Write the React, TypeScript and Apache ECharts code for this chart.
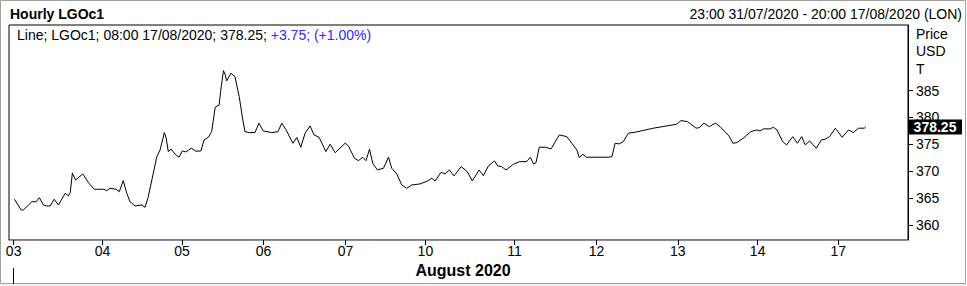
import React, { useEffect, useRef } from 'react';
import * as echarts from 'echarts';

// Trading-hour index (hourly bars since the 03 Aug session start) and LGOc1 price
const hours = [
  0.2, 2.1, 2.7, 5.1, 6.3, 7.2, 8.3, 9.2, 10.2, 11.3,
  12.5, 14.4, 15.3, 15.8, 16.4, 17.3, 19.3, 20.9, 22.5, 25.1,
  26.0, 26.9, 28.6, 29.5, 30.6, 31.6, 32.5, 33.9, 35.8, 36.7,
  37.5, 38.6, 40.0, 40.9, 42.1, 42.6, 43.2, 44.0, 45.1, 46.2,
  47.1, 48.1, 49.6, 50.9, 52.3, 53.2, 54.4, 55.3, 56.3, 57.4,
  57.8, 58.6, 59.1, 59.5, 60.7, 61.8, 63.0, 64.0, 64.6, 65.8,
  67.4, 68.5, 69.7, 72.1, 73.8, 74.9, 76.1, 78.0, 79.1, 80.2,
  81.4, 82.8, 83.9, 85.3, 86.2, 87.2, 88.4, 89.8, 92.6, 93.5,
  95.2, 96.3, 97.5, 98.4, 99.4, 100.3, 101.6, 103.3, 104.7, 105.6,
  107.0, 108.4, 109.8, 111.2, 113.5, 115.6, 116.8, 117.7, 119.4, 120.5,
  121.7, 123.0, 125.0, 126.7, 128.1, 130.0, 131.2, 132.6, 134.3, 135.2,
  136.3, 137.5, 139.6, 141.3, 143.3, 144.3, 145.2, 145.9, 146.8, 148.5,
  150.1, 152.4, 154.5, 155.9, 157.3, 158.0, 159.0, 159.9, 166.1, 167.1,
  168.0, 169.1, 170.3, 171.7, 173.6, 178.7, 185.2, 186.4, 188.2, 190.6,
  191.5, 192.8, 194.3, 196.0, 197.3, 199.8, 200.9, 202.0, 203.8, 205.9,
  207.6, 208.5, 209.4, 211.3, 212.2, 213.2, 214.8, 215.9, 217.6, 218.9,
  220.1, 221.1, 222.3, 224.2, 225.6, 226.7, 227.9, 229.5, 231.4, 233.2,
  234.5, 236.0, 237.6, 238.0,
];

const prices = [
  364.78, 362.78, 362.78, 364.33, 364.33, 365.07, 363.72, 363.53, 363.53, 364.78,
  363.72, 365.89, 365.39, 366.01, 369.62, 368.37, 369.49, 367.87, 366.64, 366.64,
  366.38, 366.82, 366.64, 366.19, 368.24, 365.89, 364.33, 363.53, 363.72, 363.29,
  364.96, 368.37, 372.71, 373.96, 377.18, 376.14, 373.64, 374.09, 373.16, 372.6,
  373.77, 373.58, 374.27, 373.72, 373.77, 375.82, 376.32, 377.36, 381.91, 382.34,
  384.81, 388.72, 387.92, 386.81, 388.24, 387.61, 383.88, 379.54, 377.36, 377.18,
  377.18, 378.93, 377.5, 377.18, 377.36, 378.93, 377.68, 375.2, 376.28, 374.46,
  377.07, 378.43, 376.75, 376.32, 375.07, 373.64, 375.02, 373.45, 375.2, 374.7,
  372.41, 371.96, 372.6, 371.96, 374.09, 371.48, 370.23, 370.55, 372.6, 370.55,
  369.49, 367.44, 366.82, 367.44, 367.63, 368.18, 368.69, 368.18, 369.8, 369.49,
  370.23, 369.12, 370.85, 369.92, 368.18, 370.23, 369.17, 370.98, 371.91, 370.98,
  370.85, 370.23, 371.29, 371.78, 371.78, 372.6, 371.35, 371.59, 374.46, 374.46,
  374.14, 376.75, 376.43, 375.2, 373.96, 372.52, 373.16, 372.6, 372.6, 372.71,
  375.2, 375.07, 375.5, 377.07, 377.25, 378.0, 378.74, 379.41, 379.23, 378.0,
  378.11, 378.93, 378.3, 378.93, 378.3, 376.56, 375.2, 375.32, 376.14, 377.36,
  377.68, 377.5, 377.87, 377.87, 378.18, 377.68, 375.5, 374.89, 376.43, 375.2,
  376.43, 374.89, 375.63, 374.27, 375.82, 375.95, 376.43, 378.0, 376.32, 377.68,
  377.18, 378.0, 378.0, 378.25,
];

// Session-start bar index for each labelled trading day
const dayLabels = ['03', '04', '05', '06', '07', '10', '11', '12', '13', '14', '17'];
const dayStartHours = [0, 24.8, 47, 69.8, 92.7, 115, 139.9, 162.8, 185.5, 207.8, 230.3];
const yTicks = [360, 365, 370, 375, 380, 385];

const titleText = 'Hourly LGOc1';
const rangeText = '23:00 31/07/2020 - 20:00 17/08/2020 (LON)';
const legendMain = 'Line; LGOc1; 08:00 17/08/2020; 378.25; ';
const legendChange = '+3.75; (+1.00%)';
const lastPrice = 378.25;
const monthLabel = 'August 2020';
const axisName = 'Price\nUSD\nT';

const FONT = '"Liberation Sans", Arial, sans-serif';

export default function App() {
  const ref = useRef<HTMLDivElement>(null);

  useEffect(() => {
    const chart = echarts.init(ref.current!, null, { renderer: 'svg', width: 967, height: 286 });
    const data = hours.map((h, i) => [h, prices[i]]);
    const baseGraphic: any[] = [
      { type: 'rect', silent: true, shape: { x: 0.5, y: 0.5, width: 965, height: 283 }, style: { fill: 'none', stroke: '#a0a0a0', lineWidth: 1 } },
      { type: 'rect', silent: true, shape: { x: 0, y: 284, width: 967, height: 2 }, style: { fill: '#f0f0f0' } },
      { type: 'text', left: 10, top: 7, style: { text: titleText, font: `bold 14px ${FONT}`, fill: '#000' } },
      { type: 'text', right: 5, top: 7, style: { text: rangeText, font: `14px ${FONT}`, fill: '#000' } },
      {
        type: 'text', left: 17, top: 28,
        style: {
          text: `{a|${legendMain}}{b|${legendChange}}`,
          rich: {
            a: { fill: '#000', font: `14px ${FONT}` },
            b: { fill: '#2b2bff', font: `14px ${FONT}` },
          },
        },
      },
      { type: 'text', left: 916, top: 25, style: { text: axisName, font: `14px ${FONT}`, fill: '#000', lineHeight: 17.5 } },
      { type: 'text', x: 463, y: 270, style: { text: monthLabel, font: `bold 16px ${FONT}`, fill: '#000', align: 'center', verticalAlign: 'middle' } },
      { type: 'line', silent: true, shape: { x1: 13.5, y1: 268, x2: 13.5, y2: 284 }, style: { stroke: '#000', lineWidth: 1 } },
    ];
    chart.setOption({
      animation: false,
      backgroundColor: '#fff',
      textStyle: { fontFamily: FONT },
      grid: {
        left: 9, right: 59, top: 25, bottom: 46,
        show: true, borderColor: '#000', borderWidth: 1, backgroundColor: '#fff',
      },
      xAxis: {
        type: 'value',
        min: -1.3,
        max: 249.8,
        splitLine: { show: false },
        axisLine: { show: true, onZero: false, lineStyle: { color: '#8c8ca0', width: 1 } },
        axisTick: { show: true, length: 5, lineStyle: { color: '#000' }, customValues: dayStartHours },
        axisLabel: {
          show: true, margin: 4, color: '#000', fontSize: 14, fontFamily: FONT,
          customValues: dayStartHours,
          formatter: (v: number) => {
            const i = dayStartHours.findIndex((t) => Math.abs(t - v) < 1e-6);
            return i >= 0 ? dayLabels[i] : '';
          },
        },
      },
      yAxis: {
        type: 'value',
        position: 'right',
        min: 357.2,
        max: 397.2,
        splitLine: { show: false },
        axisLine: { show: true, onZero: false, lineStyle: { color: '#000' } },
        axisTick: { show: true, length: 5, lineStyle: { color: '#000' }, customValues: yTicks },
        axisLabel: {
          show: true, margin: 8, color: '#000', fontSize: 14, fontFamily: FONT,
          customValues: yTicks,
        },
      },
      series: [
        {
          type: 'line',
          data,
          showSymbol: false,
          symbol: 'none',
          lineStyle: { color: '#000', width: 1 },
        },
      ],
      graphic: baseGraphic,
    });
    const py = chart.convertToPixel({ yAxisIndex: 0 }, lastPrice) as number;
    chart.setOption({
      graphic: [
        ...baseGraphic,
        { type: 'rect', silent: true, shape: { x: 908, y: Math.round(py) - 7.5, width: 54, height: 15 }, style: { fill: '#000' } },
        { type: 'text', x: 935, y: Math.round(py), style: { text: lastPrice.toFixed(2), font: `bold 14px ${FONT}`, fill: '#fff', align: 'center', verticalAlign: 'middle' } },
      ],
    });
    return () => chart.dispose();
  }, []);

  return (
    <div style={{ position: 'absolute', left: 0, top: 0, width: 967, height: 286, background: '#fff' }}>
      <div ref={ref} style={{ width: 967, height: 286 }} />
    </div>
  );
}
